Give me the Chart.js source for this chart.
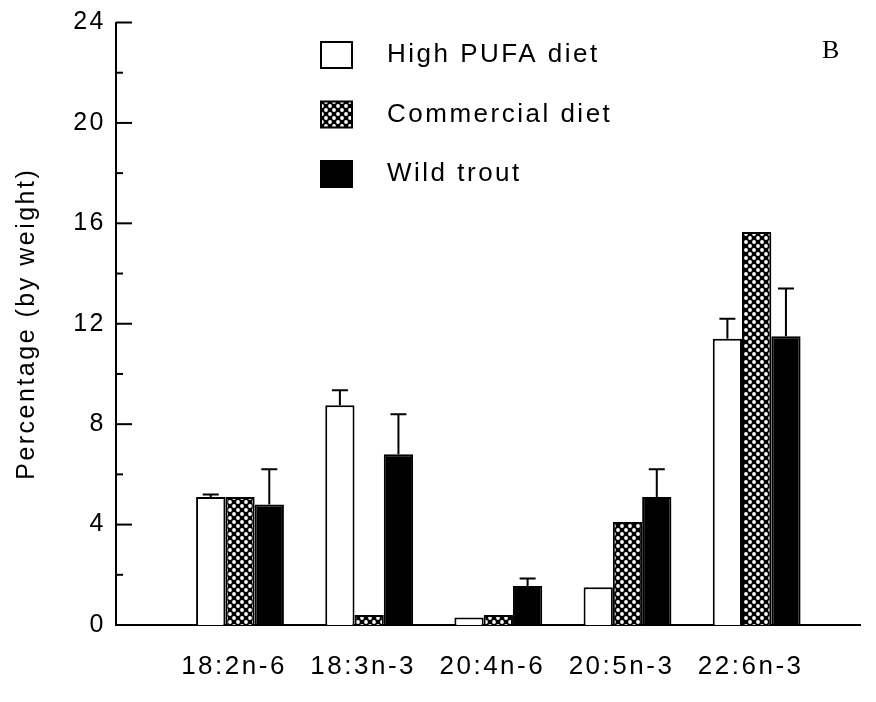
<!DOCTYPE html>
<html>
<head>
<meta charset="utf-8">
<title>Fatty acids B</title>
<script src="https://cdn.jsdelivr.net/npm/chart.js@4.4.1/dist/chart.umd.min.js"></script>
<style>
  html, body { margin: 0; padding: 0; background: #fff; }
  #wrap { width: 876px; height: 702px; position: relative; }
</style>
</head>
<body>
<div id="wrap"><canvas id="chart"></canvas></div>
<script>
const CATEGORIES = ["18:2n-6", "18:3n-3", "20:4n-6", "20:5n-3", "22:6n-3"];
const SERIES_NAMES = ["High PUFA diet", "Commercial diet", "Wild trout"];
const PUFA_VALUES = [5.1, 8.75, 0.3, 1.5, 11.4];
const PUFA_ERRORS = [0.1, 0.6, 0, 0, 0.8];
const COMMERCIAL_VALUES = [5.1, 0.4, 0.4, 4.1, 15.65];
const COMMERCIAL_ERRORS = [0, 0, 0, 0, 0];
const WILD_VALUES = [4.8, 6.8, 1.55, 5.1, 11.5];
const WILD_ERRORS = [1.4, 1.6, 0.3, 1.1, 1.9];
const Y_MAX = 24;
const Y_STEP = 2;
const Y_LABEL_STEP = 4;
const PANEL_LETTER = "B";

const ERRORS = [PUFA_ERRORS, COMMERCIAL_ERRORS, WILD_ERRORS];
const FONT = "'Liberation Sans', Arial, sans-serif";
const SPACING = "2.5px";

function toPoints(values) {
  return values.map((v, i) => ({ x: i, y: v }));
}

// black with white dots, like the cross-hatched fill in the print
function makeHatch() {
  const c = document.createElement("canvas");
  c.width = 8;
  c.height = 8;
  const g = c.getContext("2d");
  g.fillStyle = "#000";
  g.fillRect(0, 0, 8, 8);
  g.fillStyle = "#fff";
  [[2, 2], [6, 6]].forEach(([x, y]) => {
    g.beginPath();
    g.arc(x, y, 1.9, 0, Math.PI * 2);
    g.fill();
  });
  return g.createPattern(c, "repeat");
}

const letterSpacing = {
  id: "letterSpacing",
  beforeLayout(chart) { chart.ctx.letterSpacing = SPACING; },
  beforeDraw(chart) { chart.ctx.letterSpacing = SPACING; }
};

// ticks on the y axis point into the plot
const innerTicks = {
  id: "innerTicks",
  afterDraw(chart) {
    const y = chart.scales.y;
    const ctx = chart.ctx;
    const left = chart.chartArea.left;
    ctx.save();
    ctx.strokeStyle = "#000";
    ctx.lineWidth = 2;
    y.ticks.forEach((t) => {
      if (t.value === 0) return;
      const py = y.getPixelForValue(t.value);
      const len = t.value % Y_LABEL_STEP === 0 ? 16 : 7;
      ctx.beginPath();
      ctx.moveTo(left, py);
      ctx.lineTo(left + len, py);
      ctx.stroke();
    });
    ctx.restore();
  }
};

const errorBars = {
  id: "errorBars",
  afterDatasetsDraw(chart) {
    const ctx = chart.ctx;
    const yScale = chart.scales.y;
    ctx.save();
    ctx.strokeStyle = "#000";
    ctx.lineWidth = 2;
    chart.data.datasets.forEach((ds, di) => {
      const meta = chart.getDatasetMeta(di);
      meta.data.forEach((bar, i) => {
        const err = ERRORS[di][i];
        if (!err) return;
        const top = yScale.getPixelForValue(ds.data[i].y + err);
        ctx.beginPath();
        ctx.moveTo(bar.x, bar.y);
        ctx.lineTo(bar.x, top);
        ctx.moveTo(bar.x - 8, top);
        ctx.lineTo(bar.x + 8, top);
        ctx.stroke();
      });
    });
    ctx.restore();
  }
};

const legendBox = {
  id: "legendBox",
  afterDraw(chart) {
    const ctx = chart.ctx;
    ctx.save();
    ctx.letterSpacing = SPACING;
    ctx.font = "26px " + FONT;
    ctx.textBaseline = "middle";
    chart.data.datasets.forEach((ds, i) => {
      const cy = 55 + i * 59.5;
      ctx.fillStyle = ds.backgroundColor;
      ctx.fillRect(321, cy - 13, 31, 26);
      ctx.lineWidth = 2;
      ctx.strokeStyle = "#000";
      ctx.strokeRect(321, cy - 13, 31, 26);
      ctx.fillStyle = "#000";
      ctx.fillText(ds.label, 387, cy);
    });
    ctx.letterSpacing = "0px";
    ctx.font = "26px 'Liberation Serif', 'Times New Roman', serif";
    ctx.fillText(PANEL_LETTER, 822, 51);
    ctx.restore();
  }
};

document.addEventListener("DOMContentLoaded", () => {
  const hatch = makeHatch();
  const ctx = document.getElementById("chart").getContext("2d");

  new Chart(ctx, {
    type: "bar",
    data: {
      datasets: [
        {
          label: SERIES_NAMES[0],
          data: toPoints(PUFA_VALUES),
          backgroundColor: "#fff",
          borderColor: "#000",
          borderWidth: 2
        },
        {
          label: SERIES_NAMES[1],
          data: toPoints(COMMERCIAL_VALUES),
          backgroundColor: hatch,
          borderColor: "#000",
          borderWidth: 2
        },
        {
          label: SERIES_NAMES[2],
          data: toPoints(WILD_VALUES),
          backgroundColor: "#000",
          borderColor: "#000",
          borderWidth: 2
        }
      ]
    },
    options: {
      responsive: true,
      maintainAspectRatio: false,
      animation: false,
      events: [],
      categoryPercentage: 0.68,
      barPercentage: 1.0,
      layout: { padding: { top: 16, right: 16, left: 0, bottom: 0 } },
      plugins: {
        legend: { display: false },
        tooltip: { enabled: false }
      },
      scales: {
        x: {
          type: "linear",
          offset: false,
          min: -0.96,
          max: 4.8,
          grid: { display: false, drawTicks: false },
          border: { display: true, color: "#000", width: 2 },
          ticks: {
            stepSize: 1,
            includeBounds: false,
            autoSkip: false,
            maxRotation: 0,
            padding: 26,
            labelOffset: -6,
            color: "#000",
            font: { size: 26, family: FONT },
            callback: (v) => (Number.isInteger(v) && CATEGORIES[v] ? CATEGORIES[v] : "")
          },
          afterFit: (s) => { s.height = 77; }
        },
        y: {
          min: 0,
          max: Y_MAX,
          grid: { display: false, drawTicks: false },
          border: { display: true, color: "#000", width: 2 },
          ticks: {
            stepSize: Y_STEP,
            padding: 10,
            color: "#000",
            font: { size: 25, family: FONT, lineHeight: 1 },
            callback: (v) => (v % Y_LABEL_STEP === 0 ? v : "")
          },
          title: {
            display: true,
            text: "Percentage (by weight)",
            color: "#000",
            font: { size: 25, family: FONT },
            padding: { top: 12, bottom: 0 }
          },
          afterFit: (s) => { s.width = 116; }
        }
      }
    },
    plugins: [letterSpacing, innerTicks, errorBars, legendBox]
  });
});
</script>
</body>
</html>
